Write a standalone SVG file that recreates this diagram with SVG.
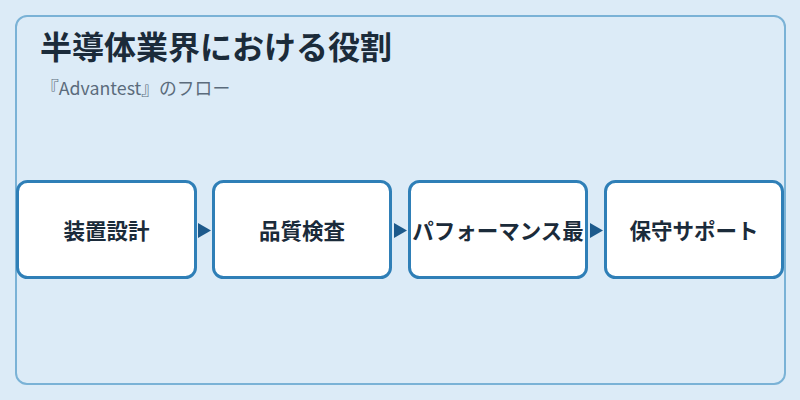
<svg xmlns="http://www.w3.org/2000/svg" width="800" height="400" viewBox="0 0 800 400">
  <defs>
    <style>
      .panel { fill: #dcebf7; stroke: #7ab2d6; stroke-width: 2; }
      .node rect { fill: #ffffff; stroke: #2f7fb7; stroke-width: 3; }
      .node text { font-family: "Noto Sans CJK JP", "Noto Sans", sans-serif; font-size: 21.5px; font-weight: 700; fill: #1b2b3a; text-anchor: middle; }
      .title { font-family: "Noto Sans CJK JP", "Noto Sans", sans-serif; font-size: 32px; font-weight: 700; fill: #1b2b3a; }
      .subtitle { font-family: "Noto Sans CJK JP", "Noto Sans", sans-serif; font-size: 17.8px; fill: #5b6b7c; }
      .arrowhead { fill: #1d5a8c; }
    </style>
  </defs>
  <rect x="0" y="0" width="800" height="400" fill="#dcebf7"/>
  <rect class="panel" x="16" y="16" width="769" height="368" rx="11" ry="11"/>
  <text class="title" x="40" y="59">半導体業界における役割</text>
  <text class="subtitle" x="41" y="95">『Advantest』のフロー</text>

  <g id="connectors">
    <polygon class="arrowhead" points="198,223 211,230.5 198,238"/>
    <polygon class="arrowhead" points="394,223 407,230.5 394,238"/>
    <polygon class="arrowhead" points="590,223 603,230.5 590,238"/>
  </g>

  <g id="node1" class="node">
    <rect x="17.5" y="181.5" width="178" height="96" rx="10" ry="10"/>
    <text x="106.5" y="238.5">装置設計</text>
  </g>
  <g id="node2" class="node">
    <rect x="213.5" y="181.5" width="177" height="96" rx="10" ry="10"/>
    <text x="302" y="238.5">品質検査</text>
  </g>
  <g id="node3" class="node">
    <rect x="409.5" y="181.5" width="177" height="96" rx="10" ry="10"/>
    <text x="498" y="238.5">パフォーマンス最</text>
  </g>
  <g id="node4" class="node">
    <rect x="605.5" y="181.5" width="177" height="96" rx="10" ry="10"/>
    <text x="694" y="238.5">保守サポート</text>
  </g>
</svg>
